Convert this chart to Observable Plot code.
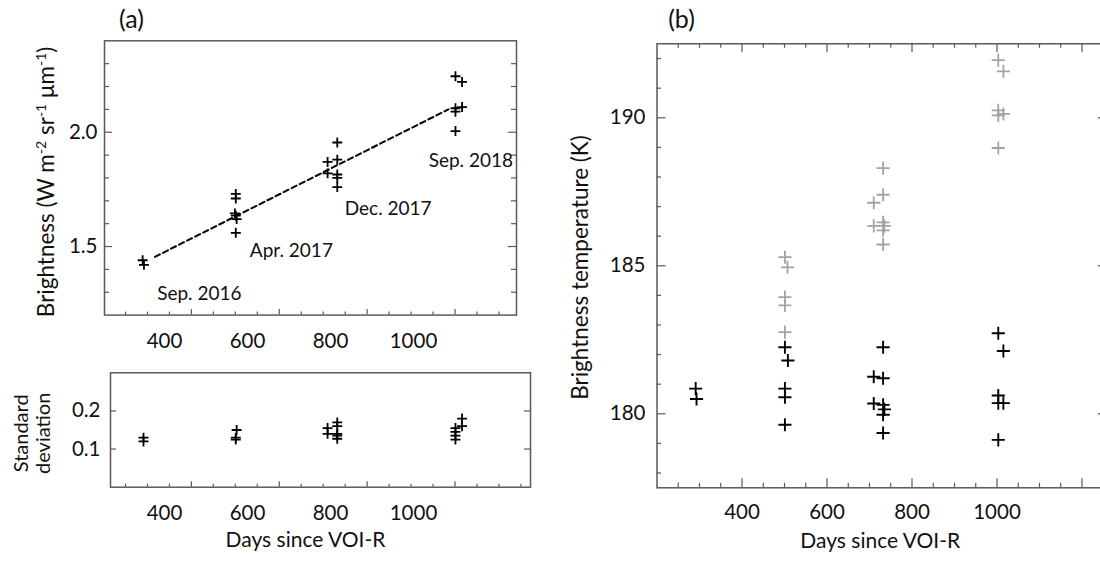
<!DOCTYPE html>
<html><head><meta charset="utf-8">
<script src="https://cdn.jsdelivr.net/npm/d3@7"></script>
<script src="https://cdn.jsdelivr.net/npm/@observablehq/plot@0.6"></script>
<style>
html,body{margin:0;padding:0;background:#fff;}
#wrap{position:relative;width:1100px;height:563px;overflow:hidden;background:#fff;}
#wrap svg{position:absolute;}
</style></head><body><div id="wrap"></div>
<script>
// ---------- data ----------
// (a) brightness, W m-2 sr-1 um-1
const brightDays   = [289, 292,  501, 501, 499, 501, 503, 501,  710, 710, 732, 732, 732, 732, 732,  1001, 1001, 1001, 1001, 1016, 1016];
const brightValues = [1.44, 1.42, 1.73, 1.71, 1.645, 1.635, 1.62, 1.56, 1.87, 1.82, 1.955, 1.88, 1.815, 1.80, 1.76, 2.245, 2.105, 2.09, 2.005, 2.22, 2.11];
// linear fit (dashed)
const fitDays   = [317, 985];
const fitValues = [1.455, 2.10];
// observation labels
const obsLabels = ["Sep. 2016", "Apr. 2017", "Dec. 2017", "Sep. 2018"];
const obsDays   = [322, 533, 749, 940];
const obsValues = [1.294, 1.48, 1.665, 1.873];
// (a) standard deviation
const stdDays   = [291, 291,  503, 501, 501,  710, 710, 732, 732, 732, 732, 732,  1001, 1001, 1001, 1001, 1016, 1016];
const stdValues = [0.13, 0.12, 0.15, 0.13, 0.125, 0.155, 0.14, 0.17, 0.16, 0.14, 0.135, 0.127, 0.155, 0.145, 0.135, 0.125, 0.18, 0.16];
// (b) brightness temperature, K
const tbDays   = [291, 293,  501, 508, 501, 501, 501,  732, 710, 732, 710, 732, 735, 732, 732,  1003, 1015, 1003, 1003, 1015, 1003];
const tbValues = [180.85, 180.5, 182.25, 181.8, 180.85, 180.56, 179.63, 182.25, 181.25, 181.2, 180.35, 180.3, 180.15, 179.97, 179.35, 182.72, 182.12, 180.62, 180.36, 180.36, 179.12];
const tbGrayDays   = [501, 507, 501, 501, 501,  732, 732, 710, 710, 732, 735, 732, 732,  1003, 1015, 1003, 1015, 1003, 1003];
const tbGrayValues = [185.29, 184.95, 183.94, 183.66, 182.76, 188.3, 187.4, 187.13, 186.35, 186.47, 186.35, 186.2, 185.72, 191.95, 191.57, 190.25, 190.13, 190.08, 188.98];
// tick labels
const xTickLabels = [400, 600, 800, 1000];
const brightTicks = [1.5, 2.0];
const stdTicks    = [0.1, 0.2];
const tbTicks     = [180, 185, 190];
const xTitle  = "Days since VOI-R";
const yTitleA = "Brightness (W m^-2 sr^-1 μm^-1)";
const yTitleS = "Standard\ndeviation";
const yTitleB = "Brightness temperature (K)";

// ---------- helpers ----------
const FRAME = "#595959", TXT = "#111", GRAY = "#a3a3a3";
const TICK_FS = 20.5, XTITLE_FS = 21, YTITLE_FS = 22.5, NOTE_FS = 19;
const pts = (xs, ys) => xs.map((d, i) => ({day: d, value: ys[i]}));
const bottomTicks = (v, len, fh, sw = 1.2) => Plot.tickX(v, {x: d => d, stroke: FRAME, strokeWidth: sw, insetTop: fh - len});
const topTicks    = (v, len, fh, sw = 1.2) => Plot.tickX(v, {x: d => d, stroke: FRAME, strokeWidth: sw, insetBottom: fh - len});
const leftTicks   = (v, len, fw, sw = 1.2) => Plot.tickY(v, {y: d => d, stroke: FRAME, strokeWidth: sw, insetRight: fw - len});
const rightTicks  = (v, len, fw, sw = 1.2) => Plot.tickY(v, {y: d => d, stroke: FRAME, strokeWidth: sw, insetLeft: fw - len});
const xMinor = d3.range(250, 1301, 50).filter(v => v % 200 !== 0);
const xMajor = d3.range(200, 1301, 200);
const baseStyle = (left, top) => ({position: "absolute", left: left + "px", top: top + "px", fontFamily: "Lato", fontSize: TICK_FS + "px", color: TXT, background: "transparent", overflow: "visible"});
const label = (txt, o) => Plot.text([txt], {text: d => d, textAnchor: "middle", lineAnchor: "middle", fill: TXT, ...o});

function applySup(svg, supSize, shift) {
  svg.querySelectorAll("text").forEach(t => {
    if (!t.textContent.includes("^")) return;
    const parts = t.textContent.split(/(\^-?\d+)/);
    t.textContent = "";
    let shifted = false;
    parts.forEach(p => {
      if (!p) return;
      const ts = document.createElementNS("http://www.w3.org/2000/svg", "tspan");
      if (p.startsWith("^")) { ts.textContent = p.slice(1); ts.setAttribute("font-size", supSize); ts.setAttribute("dy", -shift); shifted = true; }
      else { ts.textContent = p; if (shifted) { ts.setAttribute("dy", shift); shifted = false; } }
      t.appendChild(ts);
    });
  });
}

const wrap = document.getElementById("wrap");

// Panel (a) tick labels are printed slightly left of their tick marks in the original;
// they are drawn by an overlay axis sharing the panel's vertical layout.
function labelOverlay(top, H, mt, mb, pad) {
  return Plot.plot({
    width: 550, height: H, marginLeft: 164, marginRight: 137, marginTop: mt, marginBottom: mb,
    style: baseStyle(0, top),
    x: {domain: [400, 1000], label: null},
    marks: [Plot.axisX(xTickLabels, {anchor: "bottom", tickSize: 0, tickPadding: pad, fontSize: TICK_FS, tickFormat: d => String(d), label: null})]
  });
}

// ---------- (a) top: brightness ----------
{
  const W = 550, H = 355, ml = 104, mr = 34, mt = 40.3, mb = 40.4;
  const fw = W - ml - mr, fh = H - mt - mb;
  const yMinorA = d3.range(13, 24).map(v => v / 10).filter(v => v !== 1.5 && v !== 2);
  const svg = Plot.plot({
    width: W, height: H, marginLeft: ml, marginRight: mr, marginTop: mt, marginBottom: mb,
    style: baseStyle(0, 0),
    x: {domain: [202.2, 1139.9], label: null, axis: null},
    y: {domain: [1.2, 2.4], label: null},
    marks: [
      bottomTicks(xMinor.filter(v => v > 205 && v < 1138), 3, fh), bottomTicks(xMajor.filter(v => v > 205 && v < 1138), 5.5, fh),
      leftTicks(yMinorA, 5, fw), leftTicks(brightTicks, 8, fw),
      rightTicks(yMinorA, 5, fw), rightTicks(brightTicks, 8, fw),
      Plot.frame({stroke: FRAME, strokeWidth: 1.5}),
      Plot.axisY(brightTicks, {anchor: "left", tickSize: 0, tickPadding: 7, fontSize: TICK_FS, tickFormat: d3.format(".1f"), label: null}),
      Plot.line(pts(fitDays, fitValues), {x: "day", y: "value", stroke: "#000", strokeWidth: 2, strokeDasharray: "5.5,3.5"}),
      Plot.dot(pts(brightDays, brightValues), {x: "day", y: "value", symbol: "plus", r: 3.3, stroke: "#000", strokeWidth: 1.8}),
      Plot.text(obsLabels, {x: (d, i) => obsDays[i], y: (d, i) => obsValues[i], text: d => d, textAnchor: "start", lineAnchor: "middle", fontSize: NOTE_FS, fill: TXT}),
      label(yTitleA, {frameAnchor: "left", rotate: -90, dx: -58, dy: 4, fontSize: YTITLE_FS}),
      label("(a)", {frameAnchor: "top-left", dx: 27, dy: -21.3, fontSize: 25})
    ]
  });
  applySup(svg, 14, 8);
  wrap.appendChild(svg);
  wrap.appendChild(labelOverlay(0, H, mt, mb, 18.2));
}

// ---------- (a) bottom: standard deviation ----------
{
  const W = 550, H = 208, ml = 110, mr = 20, mt = 17.3, mb = 76.3;
  const fw = W - ml - mr, fh = H - mt - mb;
  const svg = Plot.plot({
    width: W, height: H, marginLeft: ml, marginRight: mr, marginTop: mt, marginBottom: mb,
    style: baseStyle(0, 355),
    x: {domain: [215.9, 1171.8], label: null, axis: null},
    y: {domain: [0, 0.3], label: null},
    marks: [
      bottomTicks(xMinor.filter(v => v > 218 && v < 1170), 3, fh), bottomTicks(xMajor.filter(v => v > 218 && v < 1170), 5.5, fh),
      leftTicks(stdTicks, 6, fw), rightTicks(stdTicks, 6, fw),
      Plot.frame({stroke: FRAME, strokeWidth: 1.5}),
      Plot.axisY(stdTicks, {anchor: "left", tickSize: 0, tickPadding: 10, fontSize: TICK_FS, tickFormat: d3.format(".1f"), label: null}),
      Plot.dot(pts(stdDays, stdValues), {x: "day", y: "value", symbol: "plus", r: 3.3, stroke: "#000", strokeWidth: 1.8}),
      label(yTitleS, {frameAnchor: "left", rotate: -90, dx: -79, dy: 3.3, fontSize: 20, lineHeight: 1.1}),
      label(xTitle, {frameAnchor: "bottom", dx: -15, dy: 53.5, fontSize: XTITLE_FS})
    ]
  });
  wrap.appendChild(svg);
  wrap.appendChild(labelOverlay(355, H, mt, mb, 18.6));
}

// ---------- (b) brightness temperature ----------
{
  const W = 560, H = 563, ml = 106.5, mr = 3, mt = 43.3, mb = 75.7;
  const fw = W - ml - mr, fh = H - mt - mb;
  const yMinor = d3.range(178, 193).filter(v => v % 5 !== 0);
  const svg = Plot.plot({
    width: W, height: H, marginLeft: ml, marginRight: mr, marginTop: mt, marginBottom: mb,
    style: baseStyle(550, 0),
    x: {domain: [200, 1260], label: null},
    y: {domain: [177.5, 192.5], label: null},
    marks: [
      bottomTicks(xMinor, 4.5, fh), bottomTicks(xMajor.filter(v => v > 200), 9, fh),
      topTicks(xMinor, 4.5, fh), topTicks(xMajor.filter(v => v > 200), 9, fh),
      leftTicks(yMinor, 4.5, fw), leftTicks(tbTicks, 9, fw),
      rightTicks(tbTicks, 9, fw),
      Plot.frame({stroke: FRAME, strokeWidth: 1.5}),
      Plot.axisX(xTickLabels, {anchor: "bottom", tickSize: 0, tickPadding: 17, fontSize: TICK_FS, tickFormat: d => String(d), label: null}),
      Plot.axisY(tbTicks, {anchor: "left", tickSize: 0, tickPadding: 11.5, fontSize: TICK_FS, label: null}),
      Plot.dot(pts(tbGrayDays, tbGrayValues), {x: "day", y: "value", symbol: "plus", r: 4.3, stroke: GRAY, strokeWidth: 1.8}),
      Plot.dot(pts(tbDays, tbValues), {x: "day", y: "value", symbol: "plus", r: 4.3, stroke: "#000", strokeWidth: 1.9}),
      label(yTitleB, {frameAnchor: "left", rotate: -90, dx: -76.5, dy: 1.7, fontSize: YTITLE_FS}),
      label(xTitle, {frameAnchor: "bottom", dx: -2, dy: 53.7, fontSize: XTITLE_FS}),
      label("(b)", {frameAnchor: "top-left", dx: 24.5, dy: -24.3, fontSize: 25})
    ]
  });
  wrap.appendChild(svg);
}
</script></body></html>
